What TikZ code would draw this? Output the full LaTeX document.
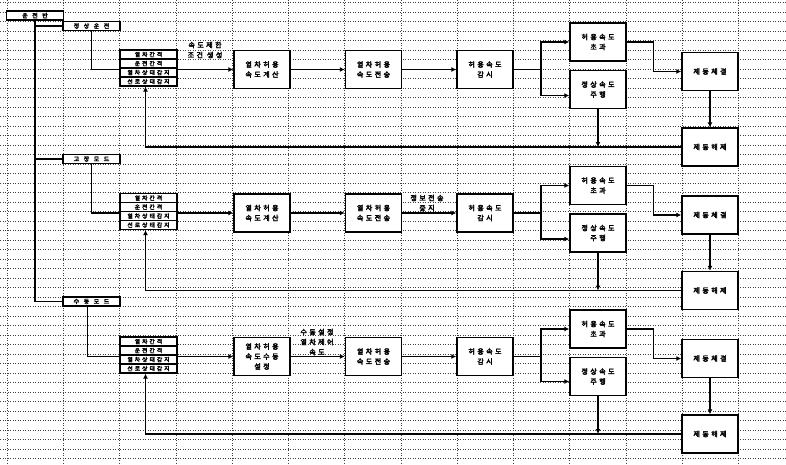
\documentclass[tikz,border=0pt]{standalone}
\usepackage{fontspec}
\newfontfamily\kr{Noto Sans CJK KR}[FakeBold=3.5, LetterSpace=35]
\newfontfamily\krw{Noto Sans CJK KR}[FakeBold=3.5, LetterSpace=75]
\usetikzlibrary{arrows.meta,backgrounds}

\begin{document}
\begin{tikzpicture}[x=1pt, y=-1pt,
	font=\kr\fontsize{7}{10}\selectfont,
	box/.style={draw=black, line width=1.4pt, fill=white, align=center, minimum width=56pt, minimum height=38pt, inner sep=0pt},
	tag/.style={draw=black, line width=1.4pt, fill=white, minimum width=57pt, minimum height=9pt, inner sep=0pt, font=\krw\fontsize{6}{6}\selectfont},
	cell/.style={draw=black, line width=1.2pt, fill=white, minimum width=57pt, minimum height=9pt, inner sep=0pt, font=\kr\fontsize{5.8}{6}\selectfont},
	note/.style={align=center, inner sep=0pt},
	wire/.style={line width=1.4pt},
	arr/.style={-{Latex[length=5pt,width=5pt]}, line width=1.4pt},
	grid/.style={black!75, dotted, line width=0.5pt}
	]
	\useasboundingbox (0,0) rectangle (786,464);

	% modes
	\node[tag] (panel) at (35,15.5) {운전반};
	\node[tag] (norm) at (91.5,26) {정상운전};
	\node[tag] (fault) at (91.5,159) {고장모드};
	\node[tag] (manual) at (91.5,301.5) {수동모드};

	% normal operation
	\node[cell] (chkA1) at (148.5,54.5) {열차간격};
	\node[cell] (chkA2) at (148.5,63.5) {운전간격};
	\node[cell] (chkA3) at (148.5,72.5) {열차상태감지};
	\node[cell] (chkA4) at (148.5,81.5) {선로상태감지};
	\node[box] (calcA) at (262,69.5) {열차허용\\속도계산};
	\node[box] (sendA) at (373.5,69.5) {열차허용\\속도전송};
	\node[box] (monA) at (485,69.5) {허용속도\\감시};
	\node[box] (overA) at (598,42) {허용속도\\초과};
	\node[box] (okA) at (598,89.5) {정상속도\\주행};
	\node[box] (brkA) at (710,71.5) {제동체결};
	\node[box] (relA) at (710,147) {제동해제};
	\node[note] (limA) at (205,50) {속도제한\\조건 생성};
	\coordinate (brA) at (541,69.5);

	% fault mode
	\node[cell] (chkB1) at (148.5,198) {열차간격};
	\node[cell] (chkB2) at (148.5,207) {운전간격};
	\node[cell] (chkB3) at (148.5,216) {열차상태감지};
	\node[cell] (chkB4) at (148.5,225) {선로상태감지};
	\node[box] (calcB) at (262,213) {열차허용\\속도계산};
	\node[box] (sendB) at (373.5,213) {열차허용\\속도전송};
	\node[box] (monB) at (485,213) {허용속도\\감시};
	\node[box] (overB) at (598,185.5) {허용속도\\초과};
	\node[box] (okB) at (598,233) {정상속도\\주행};
	\node[box] (brkB) at (710,215) {제동체결};
	\node[box] (relB) at (710,290.5) {제동해제};
	\node[note] (limB) at (427,203) {정보전송\\중지};
	\coordinate (brB) at (541,213);

	% manual mode
	\node[cell] (chkC1) at (148.5,341.5) {열차간격};
	\node[cell] (chkC2) at (148.5,350.5) {운전간격};
	\node[cell] (chkC3) at (148.5,359.5) {열차상태감지};
	\node[cell] (chkC4) at (148.5,368.5) {선로상태감지};
	\node[box] (calcC) at (262,356.5) {열차허용\\속도수동\\설정};
	\node[box] (sendC) at (373.5,356.5) {열차허용\\속도전송};
	\node[box] (monC) at (485,356.5) {허용속도\\감시};
	\node[box] (overC) at (598,329) {허용속도\\초과};
	\node[box] (okC) at (598,376.5) {정상속도\\주행};
	\node[box] (brkC) at (710,358.5) {제동체결};
	\node[box] (relC) at (710,434) {제동해제};
	\node[note] (limC) at (317,342) {수동설정\\열차제어\\속도};
	\coordinate (brC) at (541,356.5);

	\begin{scope}[on background layer]
		\foreach \k in {0,...,48}
			\draw[grid] (0,{2.5+9.5*\k}) -- (786,{2.5+9.5*\k});
		\foreach \k in {0,...,13}
			\draw[grid] ({7+56.25*\k},0) -- ({7+56.25*\k},464);

		\draw[wire] (panel.south) -- (panel.south |- manual.west) -- (manual.west);
		\draw[wire] (panel.south |- norm.west) -- (norm.west);
		\draw[wire] (panel.south |- fault.west) -- (fault.west);

		\draw[arr] (norm.south) |- (calcA.west);
		\draw[arr] (calcA) -- (sendA);
		\draw[arr] (sendA) -- (monA);
		\draw[wire] (monA.east) -- (brA);
		\draw[arr] (brA) |- (overA.west);
		\draw[arr] (brA) |- ([yshift=-6pt]okA.west);
		\draw[arr] (overA.east) -- ++(27,0) |- (brkA.west);
		\draw[arr] (brkA) -- (relA);
		\draw[arr] (relA.west) -| ([xshift=-3pt]chkA4.south);
		\draw[arr] (okA.south) -- (okA.south |- relA.west);

		\draw[arr] (fault.south) |- (calcB.west);
		\draw[arr] (calcB) -- (sendB);
		\draw[arr] (sendB) -- (monB);
		\draw[wire] (monB.east) -- (brB);
		\draw[arr] (brB) |- (overB.west);
		\draw[arr] (brB) |- ([yshift=-6pt]okB.west);
		\draw[arr] (overB.east) -- ++(27,0) |- (brkB.west);
		\draw[arr] (brkB) -- (relB);
		\draw[arr] (relB.west) -| ([xshift=-3pt]chkB4.south);
		\draw[arr] (okB.south) -- (okB.south |- relB.west);

		\draw[arr] ([xshift=-4pt]manual.south) |- (calcC.west);
		\draw[arr] (calcC) -- (sendC);
		\draw[arr] (sendC) -- (monC);
		\draw[wire] (monC.east) -- (brC);
		\draw[arr] (brC) |- (overC.west);
		\draw[arr] (brC) |- ([yshift=-5pt]okC.west);
		\draw[arr] (overC.east) -- ++(27,0) |- (brkC.west);
		\draw[arr] (brkC) -- (relC);
		\draw[arr] (relC.west) -| ([xshift=-3pt]chkC4.south);
		\draw[arr] (okC.south) -- (okC.south |- relC.west);
	\end{scope}
\end{tikzpicture}
\end{document}
